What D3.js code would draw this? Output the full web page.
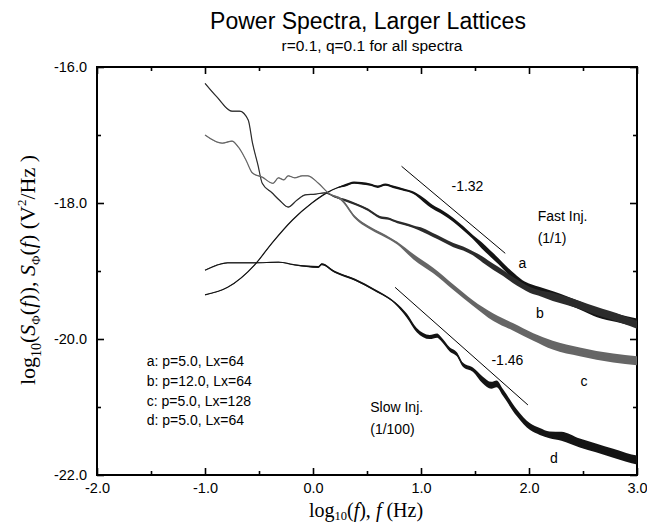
<!DOCTYPE html>
<html>
<head>
<meta charset="utf-8">
<script src="https://cdn.jsdelivr.net/npm/d3@7"></script>
<style>
body { margin: 0; background: #fff; }
svg text { fill: #000; }
</style>
</head>
<body>
<div id="chart"></div>
<script>
// values: x = log10(f), y = log10(S)
var a_x = [-1.00,-0.79,-0.54,-0.38,-0.19,-0.01,0.14,0.22,0.30,0.38,0.45,0.53,0.60,0.67,0.74,0.83,0.93,1.02,1.11,1.20,1.30,1.39,1.48,1.56,1.64,1.72,1.80,1.87,1.94,2.02,2.10,2.23,2.35,2.49,2.63,2.81,3.00];
var a_y = [-19.35,-19.24,-18.91,-18.59,-18.25,-18.00,-17.84,-17.78,-17.74,-17.70,-17.71,-17.73,-17.76,-17.73,-17.76,-17.80,-17.85,-17.95,-18.06,-18.14,-18.25,-18.37,-18.50,-18.62,-18.74,-18.86,-18.99,-19.09,-19.18,-19.24,-19.28,-19.36,-19.43,-19.52,-19.62,-19.69,-19.76];

var b_x = [-1.00,-0.89,-0.75,-0.68,-0.60,-0.56,-0.51,-0.47,-0.38,-0.31,-0.23,-0.15,-0.07,0.02,0.11,0.20,0.30,0.40,0.51,0.62,0.70,0.78,0.85,0.93,1.02,1.11,1.20,1.30,1.39,1.48,1.57,1.67,1.76,1.85,1.93,2.01,2.11,2.22,2.35,2.47,2.61,2.75,2.88,3.00];
var b_y = [-16.24,-16.44,-16.65,-16.65,-16.78,-17.12,-17.44,-17.71,-17.85,-17.96,-18.06,-17.96,-17.88,-17.87,-17.85,-17.91,-17.96,-18.02,-18.10,-18.21,-18.23,-18.28,-18.31,-18.35,-18.40,-18.47,-18.54,-18.62,-18.67,-18.74,-18.83,-18.94,-19.03,-19.13,-19.21,-19.28,-19.33,-19.38,-19.44,-19.50,-19.58,-19.65,-19.72,-19.79];

var c_x = [-1.00,-0.84,-0.75,-0.69,-0.62,-0.56,-0.47,-0.37,-0.32,-0.27,-0.23,-0.17,-0.10,-0.05,0.05,0.14,0.27,0.39,0.51,0.64,0.78,0.93,1.11,1.30,1.48,1.67,1.85,2.04,2.22,2.47,2.78,3.00];
var c_y = [-17.00,-17.12,-17.09,-17.18,-17.37,-17.56,-17.62,-17.71,-17.63,-17.66,-17.60,-17.63,-17.60,-17.60,-17.71,-17.85,-17.96,-18.21,-18.35,-18.46,-18.59,-18.79,-18.99,-19.24,-19.47,-19.68,-19.82,-19.97,-20.09,-20.19,-20.28,-20.32];

var d_x = [-1.00,-0.79,-0.54,-0.32,-0.17,0.05,0.08,0.20,0.39,0.57,0.76,0.87,0.96,1.08,1.15,1.18,1.27,1.33,1.39,1.48,1.57,1.65,1.70,1.76,1.89,2.01,2.10,2.19,2.30,2.47,2.62,2.78,2.90,3.00];
var d_y = [-18.99,-18.88,-18.88,-18.87,-18.91,-18.94,-18.90,-19.01,-19.13,-19.28,-19.47,-19.66,-19.87,-19.97,-19.95,-19.99,-20.16,-20.22,-20.38,-20.45,-20.60,-20.68,-20.66,-20.79,-21.09,-21.29,-21.36,-21.41,-21.43,-21.53,-21.60,-21.68,-21.74,-21.78];

// half width of the noisy band, as steps [from x, half width]
var a_noise = [[-1,0.004],[0.3,0.018],[1.0,0.03],[1.5,0.045],[2.2,0.06]];
var b_noise = [[-1,0.004],[0.3,0.018],[1.0,0.03],[1.5,0.045],[2.2,0.06]];
var c_noise = [[-1,0.004],[0.2,0.02],[0.8,0.04],[1.5,0.055],[2.2,0.065]];
var d_noise = [[-1,0.004],[0.0,0.015],[0.8,0.03],[1.5,0.05],[2.2,0.065]];

// fitted slopes
var fit_fast = [[0.82,-17.46],[1.78,-18.74]];
var fit_slow = [[0.76,-19.24],[1.99,-20.97]];

var x_major = [-2,-1,0,1,2,3];
var x_minor = [-1.5,-0.5,0.5,1.5,2.5];
var y_major = [-22,-20,-18,-16];
var y_minor = [-21,-19,-17];

var legend_lines = ["a: p=5.0, Lx=64","b: p=12.0, Lx=64","c: p=5.0, Lx=128","d: p=5.0, Lx=64"];

var W = 647, H = 524;
var pLeft = 97, pRight = 637, pTop = 67, pBottom = 475;
var sans = "'Liberation Sans', Arial, sans-serif";
var serif = "'Liberation Serif', 'Times New Roman', serif";

var svg = d3.select("#chart").append("svg")
	.attr("width", W).attr("height", H)
	.style("font-family", sans);

var x = d3.scaleLinear().domain([-2,3]).range([pLeft,pRight]);
var y = d3.scaleLinear().domain([-22,-16]).range([pBottom,pTop]);

function fmt(d){ return d.toFixed(1); }

// axes, ticks pointing inward on all four sides
svg.append("g").attr("transform","translate(0,"+pBottom+")")
	.call(d3.axisBottom(x).tickValues(x_major).tickSize(-7).tickPadding(8).tickFormat(fmt));
svg.append("g").attr("transform","translate(0,"+pBottom+")")
	.call(d3.axisBottom(x).tickValues(x_minor).tickSize(-4).tickFormat(""));
svg.append("g").attr("transform","translate(0,"+pTop+")")
	.call(d3.axisTop(x).tickValues(x_major).tickSize(-7).tickFormat(""));
svg.append("g").attr("transform","translate(0,"+pTop+")")
	.call(d3.axisTop(x).tickValues(x_minor).tickSize(-4).tickFormat(""));

svg.append("g").attr("transform","translate("+pLeft+",0)")
	.call(d3.axisLeft(y).tickValues(y_major).tickSize(-7).tickPadding(10).tickFormat(fmt));
svg.append("g").attr("transform","translate("+pLeft+",0)")
	.call(d3.axisLeft(y).tickValues(y_minor).tickSize(-4).tickFormat(""));
svg.append("g").attr("transform","translate("+pRight+",0)")
	.call(d3.axisRight(y).tickValues(y_major).tickSize(-7).tickFormat(""));
svg.append("g").attr("transform","translate("+pRight+",0)")
	.call(d3.axisRight(y).tickValues(y_minor).tickSize(-4).tickFormat(""));

svg.selectAll(".domain").remove();
svg.selectAll(".tick line").attr("stroke","#000").attr("stroke-width",1.6);
svg.selectAll(".tick text").attr("font-size",14.5).attr("font-family",sans);

// frame
svg.append("rect").attr("x",pLeft).attr("y",pTop).attr("width",pRight-pLeft).attr("height",pBottom-pTop)
	.attr("fill","none").attr("stroke","#000").attr("stroke-width",2);

// series
function noiseAt(steps, v){
	var w = steps[0][1];
	for(var i=0;i<steps.length;i++){ if(v >= steps[i][0]) w = steps[i][1]; }
	return w;
}
var series = [
	{xs:a_x, ys:a_y, noise:a_noise, color:"#141414"},
	{xs:b_x, ys:b_y, noise:b_noise, color:"#2c2c2c"},
	{xs:c_x, ys:c_y, noise:c_noise, color:"#666666"},
	{xs:d_x, ys:d_y, noise:d_noise, color:"#141414"}
];
var plot = svg.append("g");
series.forEach(function(s){
	var pts = s.xs.map(function(v,i){ return {x:v, y:s.ys[i], w:noiseAt(s.noise,v)}; });
	var band = d3.area()
		.x(function(p){ return x(p.x); })
		.y0(function(p){ return y(p.y - p.w); })
		.y1(function(p){ return y(p.y + p.w); })
		.curve(d3.curveMonotoneX);
	var line = d3.line()
		.x(function(p){ return x(p.x); })
		.y(function(p){ return y(p.y); })
		.curve(d3.curveMonotoneX);
	plot.append("path").attr("d", band(pts)).attr("fill", s.color).attr("stroke","none");
	plot.append("path").attr("d", line(pts)).attr("fill","none").attr("stroke", s.color).attr("stroke-width",1.2);
});

// slope guide lines
var guide = d3.line().x(function(p){ return x(p[0]); }).y(function(p){ return y(p[1]); });
[fit_fast, fit_slow].forEach(function(f){
	svg.append("path").attr("d", guide(f)).attr("stroke","#000").attr("stroke-width",1).attr("fill","none");
});

// annotations (placed in data coordinates)
function note(txt, dx, dy, anchor){
	svg.append("text").attr("x", x(dx)).attr("y", y(dy))
		.attr("font-size",14).attr("text-anchor", anchor || "start").text(txt);
}
note("-1.32", 1.43, -17.83, "middle");
note("Fast Inj.", 2.08, -18.27);
note("(1/1)", 2.08, -18.59);
note("a", 1.94, -18.96, "middle");
note("b", 2.10, -19.69, "middle");
note("c", 2.51, -20.69, "middle");
note("d", 2.23, -21.82, "middle");
note("-1.46", 1.80, -20.38, "middle");
note("Slow Inj.", 0.53, -21.08);
note("(1/100)", 0.53, -21.40);

legend_lines.forEach(function(t,i){
	note(t, -1.54, -20.40 - i*0.29);
});

// titles
svg.append("text").attr("x",368).attr("y",29).attr("text-anchor","middle")
	.attr("font-size",23).text("Power Spectra, Larger Lattices");
svg.append("text").attr("x",372).attr("y",51).attr("text-anchor","middle")
	.attr("font-size",15.5).text("r=0.1, q=0.1 for all spectra");

// axis titles (serif, italic f and S)
var xt = svg.append("text").attr("x",366).attr("y",517).attr("text-anchor","middle")
	.attr("font-family",serif).attr("font-size",20);
xt.append("tspan").text("log");
xt.append("tspan").attr("font-size",12.5).attr("dy",3).text("10");
xt.append("tspan").attr("dy",-3).text("(");
xt.append("tspan").attr("font-style","italic").text("f");
xt.append("tspan").text("), ");
xt.append("tspan").attr("font-style","italic").text("f");
xt.append("tspan").text(" (Hz)");

var yt = svg.append("text").attr("transform","translate(35,270) rotate(-90)").attr("text-anchor","middle")
	.attr("font-family",serif).attr("font-size",22);
yt.append("tspan").text("log");
yt.append("tspan").attr("font-size",14).attr("dy",6).text("10");
yt.append("tspan").attr("dy",-6).text("(");
yt.append("tspan").attr("font-style","italic").text("S");
yt.append("tspan").attr("font-size",13).attr("dy",5).text("Φ");
yt.append("tspan").attr("dy",-5).text("(");
yt.append("tspan").attr("font-style","italic").text("f");
yt.append("tspan").text(")), ");
yt.append("tspan").attr("font-style","italic").text("S");
yt.append("tspan").attr("font-size",13).attr("dy",5).text("Φ");
yt.append("tspan").attr("dy",-5).text("(");
yt.append("tspan").attr("font-style","italic").text("f");
yt.append("tspan").text(") (V");
yt.append("tspan").attr("font-size",13).attr("dy",-9).text("2");
yt.append("tspan").attr("dy",9).text("/Hz )");
</script>
</body>
</html>
